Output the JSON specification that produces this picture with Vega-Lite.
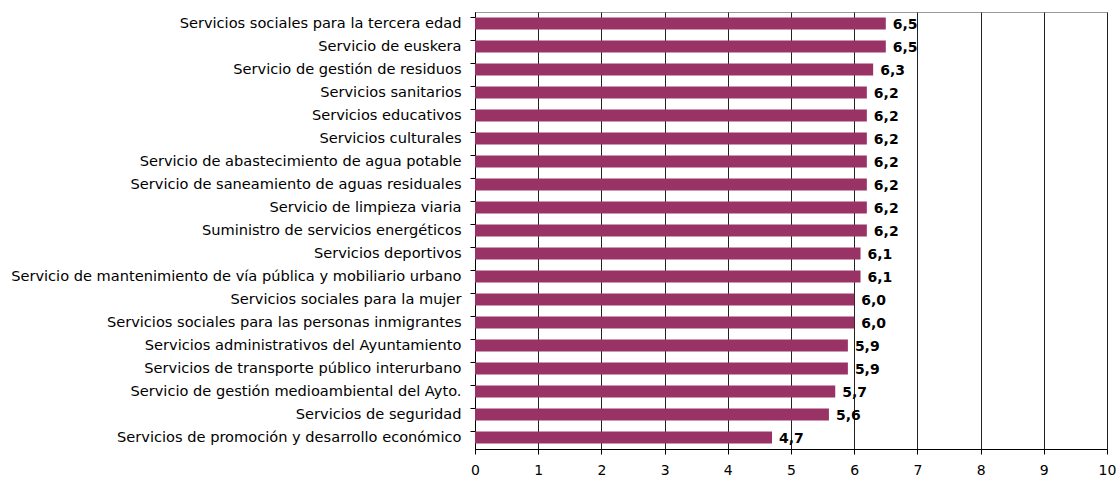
{
  "$schema": "https://vega.github.io/schema/vega-lite/v6.json",
  "autosize": {"type": "none"},
  "width": 632,
  "height": 437,
  "padding": {"left": 475, "top": 12, "right": 12, "bottom": 30},
  "config": {
    "locale": {"number": {"decimal": ",", "thousands": ".", "grouping": [3], "currency": ["", " €"]}},
    "view": {"stroke": "#999999", "strokeWidth": 1},
    "font": "DejaVu Sans"
  },
  "data": {
    "values": [
      {"servicio": "Servicios sociales para la tercera edad", "valor": 6.5},
      {"servicio": "Servicio de euskera", "valor": 6.5},
      {"servicio": "Servicio de gestión de residuos", "valor": 6.3},
      {"servicio": "Servicios sanitarios", "valor": 6.2},
      {"servicio": "Servicios educativos", "valor": 6.2},
      {"servicio": "Servicios culturales", "valor": 6.2},
      {"servicio": "Servicio de abastecimiento de agua potable", "valor": 6.2},
      {"servicio": "Servicio de saneamiento de aguas residuales", "valor": 6.2},
      {"servicio": "Servicio de limpieza viaria", "valor": 6.2},
      {"servicio": "Suministro de servicios energéticos", "valor": 6.2},
      {"servicio": "Servicios deportivos", "valor": 6.1},
      {"servicio": "Servicio de mantenimiento de vía pública y mobiliario urbano", "valor": 6.1},
      {"servicio": "Servicios sociales para la mujer", "valor": 6.0},
      {"servicio": "Servicios sociales para las personas inmigrantes", "valor": 6.0},
      {"servicio": "Servicios administrativos del Ayuntamiento", "valor": 5.9},
      {"servicio": "Servicios de transporte público interurbano", "valor": 5.9},
      {"servicio": "Servicio de gestión medioambiental del Ayto.", "valor": 5.7},
      {"servicio": "Servicios de seguridad", "valor": 5.6},
      {"servicio": "Servicios de promoción y desarrollo económico", "valor": 4.7}
    ]
  },
  "encoding": {
    "y": {
      "field": "servicio",
      "type": "nominal",
      "sort": null,
      "scale": {"paddingInner": 0.47, "paddingOuter": 0.235},
      "axis": {
        "title": null,
        "bandPosition": 0,
        "domainColor": "#000000",
        "tickColor": "#000000",
        "tickSize": 5,
        "labelPadding": 9,
        "labelFontSize": 14.6,
        "labelColor": "#000000",
        "labelLimit": 600,
        "grid": false
      }
    },
    "x": {
      "field": "valor",
      "type": "quantitative",
      "scale": {"domain": [0, 10], "nice": false},
      "axis": {
        "title": null,
        "values": [0, 1, 2, 3, 4, 5, 6, 7, 8, 9, 10],
        "format": "d",
        "grid": true,
        "gridColor": "#222222",
        "gridOpacity": 1,
        "domainColor": "#000000",
        "tickColor": "#000000",
        "tickSize": 5,
        "labelPadding": 9,
        "labelFlush": false,
        "labelFontSize": 14,
        "labelColor": "#000000"
      }
    }
  },
  "layer": [
    {"mark": {"type": "bar", "color": "#993366"}},
    {
      "mark": {"type": "text", "align": "left", "baseline": "middle", "dx": 7, "dy": 1, "fontWeight": "bold", "fontSize": 14, "color": "#000000"},
      "encoding": {"text": {"field": "valor", "type": "quantitative", "format": ".1f"}}
    }
  ]
}
